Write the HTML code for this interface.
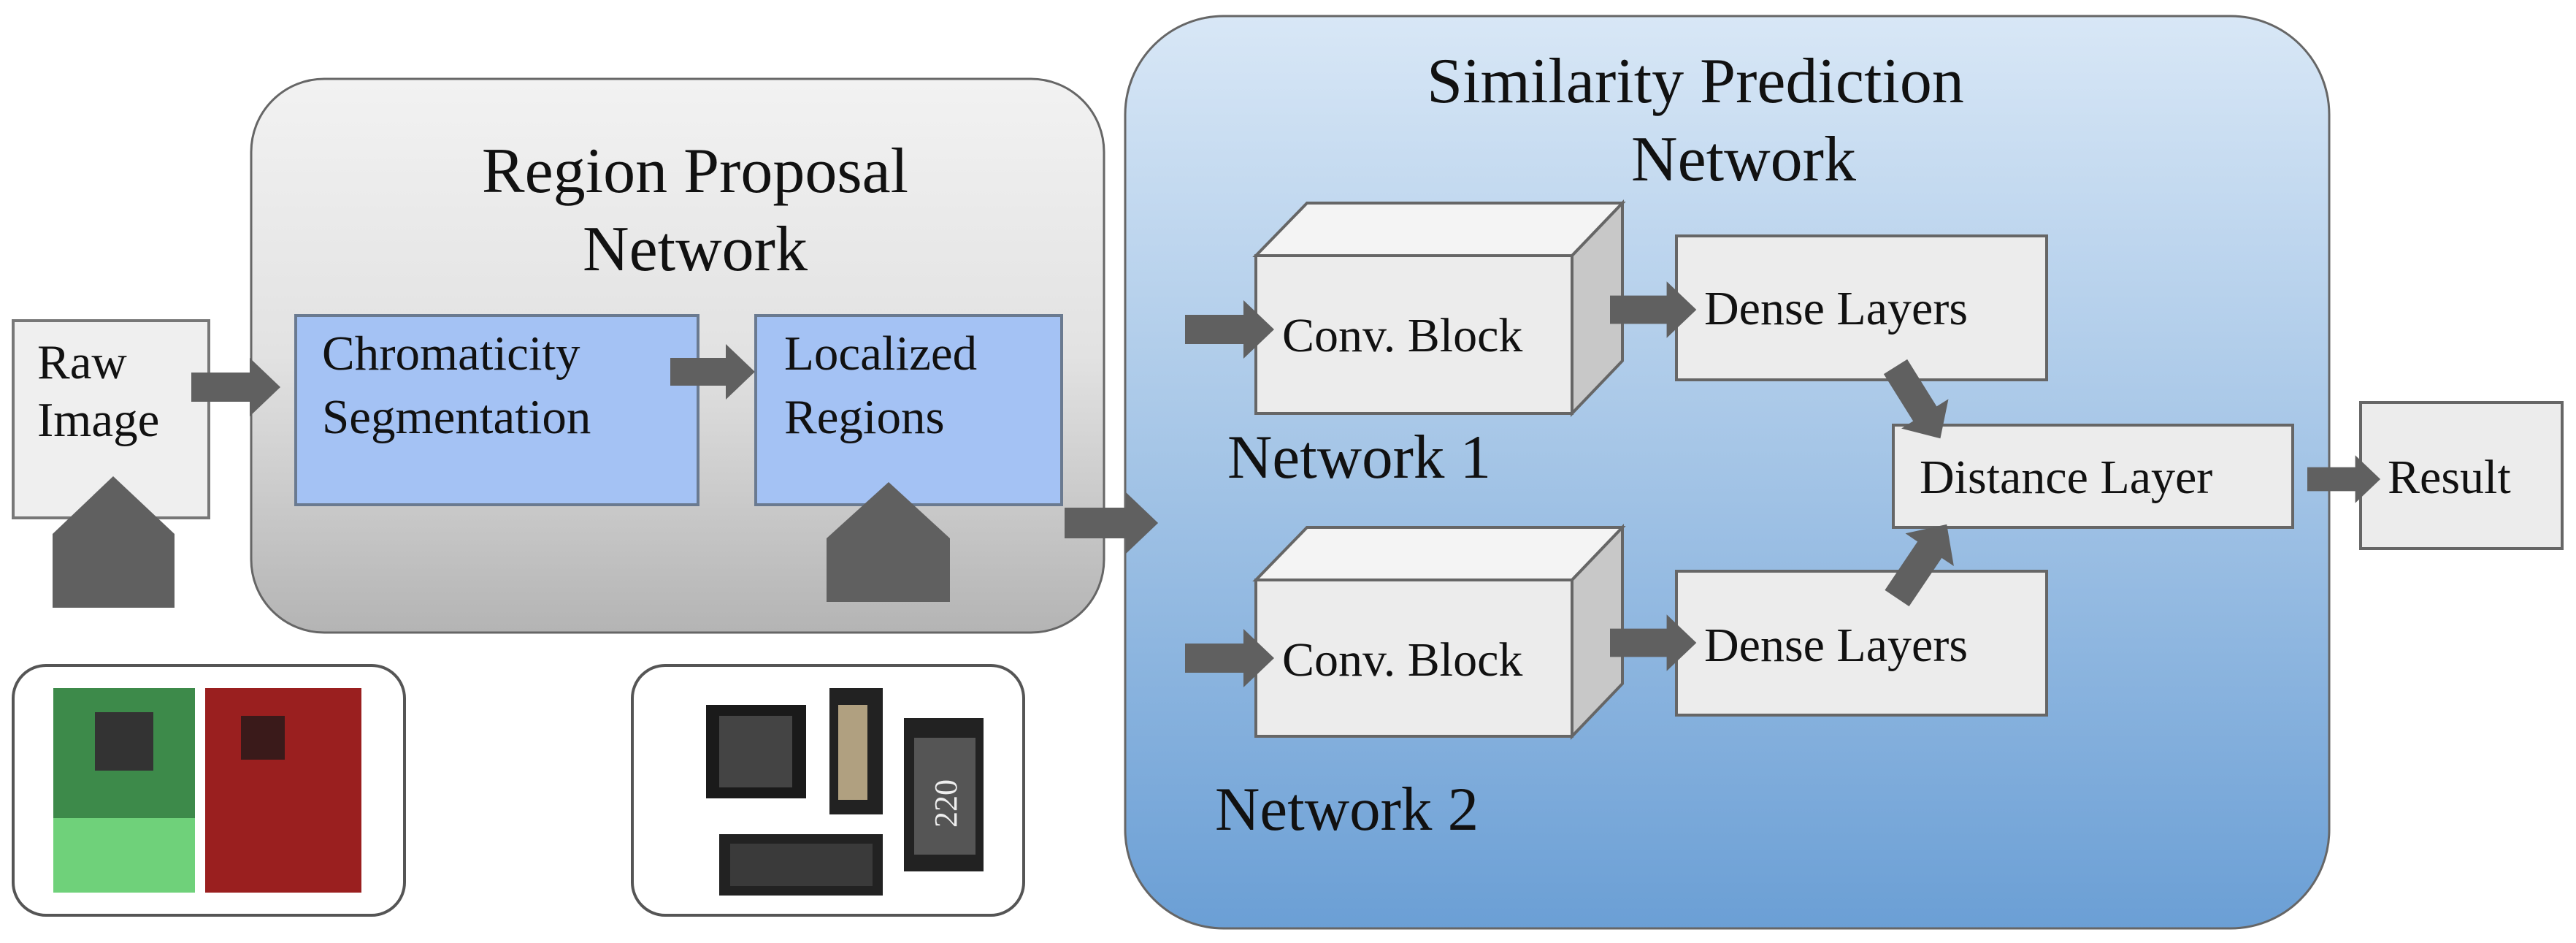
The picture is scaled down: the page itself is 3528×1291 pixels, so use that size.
<!DOCTYPE html>
<html><head><meta charset="utf-8"><style>
html,body{margin:0;padding:0;background:#fff}
svg{display:block}
text{font-family:"Liberation Serif",serif;fill:#111}
</style></head><body>
<svg width="3528" height="1291" viewBox="0 0 3528 1291" xmlns="http://www.w3.org/2000/svg">
<defs>
<linearGradient id="gg" x1="0" y1="0" x2="0" y2="1"><stop offset="0" stop-color="#f2f2f2"/><stop offset="0.5" stop-color="#e2e2e2"/><stop offset="1" stop-color="#b4b4b4"/></linearGradient>
<linearGradient id="bg" x1="0" y1="0" x2="0" y2="1"><stop offset="0" stop-color="#d8e7f6"/><stop offset="0.5" stop-color="#a3c4e6"/><stop offset="1" stop-color="#6b9fd5"/></linearGradient>
</defs>
<!-- RPN -->
<rect x="344" y="108" width="1168" height="758" rx="100" fill="url(#gg)" stroke="#666" stroke-width="3"/>
<text x="952" y="263" font-size="88" text-anchor="middle">Region Proposal</text>
<text x="952" y="370" font-size="88" text-anchor="middle">Network</text>
<rect x="405" y="432" width="551" height="259" fill="#a4c2f4" stroke="#6a7a90" stroke-width="4"/>
<text x="441" y="506" font-size="67">Chromaticity</text>
<text x="441" y="593" font-size="67">Segmentation</text>
<rect x="1035" y="432" width="419" height="259" fill="#a4c2f4" stroke="#6a7a90" stroke-width="4"/>
<text x="1074" y="506" font-size="67">Localized</text>
<text x="1074" y="593" font-size="67">Regions</text>
<rect x="18" y="439" width="268" height="270" fill="#efefef" stroke="#777" stroke-width="4"/>
<text x="51" y="518" font-size="67">Raw</text>
<text x="51" y="597" font-size="67">Image</text>
<!-- SPN -->
<rect x="1541" y="22" width="1649" height="1249" rx="135" fill="url(#bg)" stroke="#666" stroke-width="3"/>
<text x="2322" y="140" font-size="88" text-anchor="middle">Similarity Prediction</text>
<text x="2388" y="247" font-size="88" text-anchor="middle">Network</text>
<!-- conv blocks -->
<g stroke="#666" stroke-width="4">
<polygon points="1720,350 1790,278 2222,278 2153,350" fill="#f4f4f4"/>
<polygon points="2153,350 2222,278 2222,494 2153,566" fill="#c8c8c8"/>
<rect x="1720" y="350" width="433" height="216" fill="#ececec"/>
<polygon points="1720,794 1790,722 2222,722 2153,794" fill="#f4f4f4"/>
<polygon points="2153,794 2222,722 2222,936 2153,1008" fill="#c8c8c8"/>
<rect x="1720" y="794" width="433" height="214" fill="#ececec"/>
<rect x="2296" y="323" width="507" height="197" fill="#ececec"/>
<rect x="2296" y="782" width="507" height="197" fill="#ececec"/>
<rect x="2593" y="582" width="547" height="140" fill="#ececec"/>
<rect x="3233" y="551" width="276" height="200" fill="#ececec"/>
</g>
<text x="1756" y="481" font-size="66">Conv. Block</text>
<text x="1756" y="925" font-size="66">Conv. Block</text>
<text x="2334" y="444" font-size="66">Dense Layers</text>
<text x="2334" y="905" font-size="66">Dense Layers</text>
<text x="2629" y="675" font-size="66">Distance Layer</text>
<text x="3270" y="675" font-size="66">Result</text>
<text x="1681" y="654" font-size="85">Network 1</text>
<text x="1664" y="1136" font-size="85">Network 2</text>
<!-- arrows -->
<g fill="#606060">
<polygon points="0,-20 80,-20 80,-40 122,0 80,40 80,20 0,20" transform="translate(262,530)"/>
<polygon points="0,-20 80,-20 80,-40 122,0 80,40 80,20 0,20" transform="translate(918,509) scale(0.95)"/>
<polygon points="0,-20 80,-20 80,-40 122,0 80,40 80,20 0,20" transform="translate(1458,716) scale(1.05)"/>
<polygon points="0,-20 80,-20 80,-40 122,0 80,40 80,20 0,20" transform="translate(1623,451)"/>
<polygon points="0,-20 80,-20 80,-40 122,0 80,40 80,20 0,20" transform="translate(1623,901)"/>
<polygon points="0,-20 80,-20 80,-40 122,0 80,40 80,20 0,20" transform="translate(2205,424) scale(0.97)"/>
<polygon points="0,-20 80,-20 80,-40 122,0 80,40 80,20 0,20" transform="translate(2205,880) scale(0.97)"/>
<polygon points="0,-20 80,-20 80,-40 122,0 80,40 80,20 0,20" transform="translate(3160,656) scale(0.82)"/>
<polygon points="0,-20 80,-20 80,-40 122,0 80,40 80,20 0,20" transform="translate(2596,502) rotate(58) scale(0.95)"/>
<polygon points="0,-20 80,-20 80,-40 122,0 80,40 80,20 0,20" transform="translate(2598,819) rotate(-56) scale(1)"/>
<polygon points="72,832 72,731 155,652 239,731 239,832"/>
<polygon points="1132,824 1132,737 1217,660 1301,737 1301,824"/>
</g>
<!-- image boxes -->
<rect x="18" y="911" width="536" height="342" rx="45" fill="#fff" stroke="#555" stroke-width="4"/>
<rect x="73" y="942" width="194" height="280" fill="#3d8a4a"/>
<rect x="73" y="1120" width="194" height="102" fill="#6fd17a"/>
<rect x="130" y="975" width="80" height="80" fill="#333"/>
<rect x="281" y="942" width="214" height="280" fill="#9a1f1f"/>
<rect x="330" y="980" width="60" height="60" fill="#3a1a1a"/>
<rect x="866" y="911" width="536" height="342" rx="45" fill="#fff" stroke="#555" stroke-width="4"/>
<rect x="967" y="965" width="137" height="128" fill="#1a1a1a"/>
<rect x="985" y="980" width="100" height="98" fill="#444"/>
<rect x="1136" y="942" width="73" height="173" fill="#222"/>
<rect x="1148" y="965" width="40" height="130" fill="#b0a080"/>
<rect x="1238" y="983" width="109" height="210" fill="#222"/>
<rect x="1252" y="1010" width="84" height="160" fill="#555"/>
<text x="1310" y="1100" font-size="44" style="fill:#eee" transform="rotate(-90 1310 1100)" text-anchor="middle" font-family="Liberation Sans, sans-serif">220</text>
<rect x="985" y="1142" width="224" height="84" fill="#222"/>
<rect x="1000" y="1155" width="195" height="58" fill="#3a3a3a"/>
</svg>
</body></html>
